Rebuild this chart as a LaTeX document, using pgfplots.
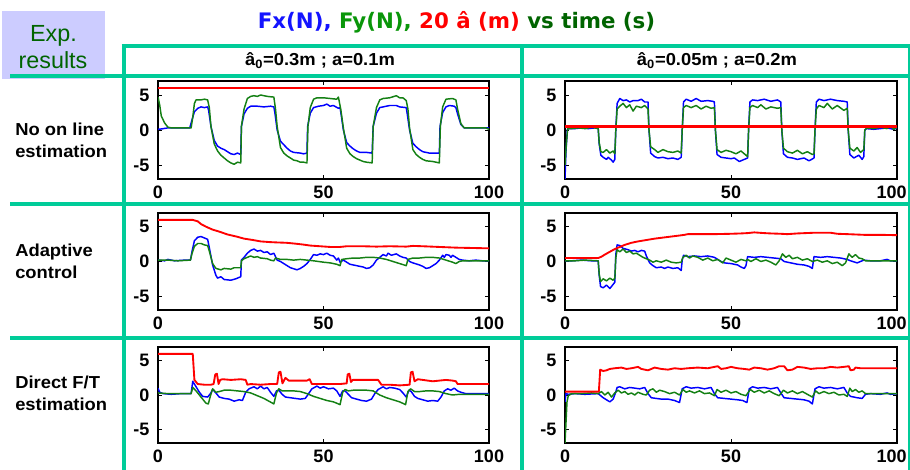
\documentclass[border=0pt]{standalone}
\usepackage{fontspec}
\setmainfont{Liberation Sans}
\newfontfamily\lbl[FakeStretch=1.06]{Liberation Sans}
\newfontfamily\ttl{DejaVu Sans}
\usepackage{pgfplots}
\pgfplotsset{compat=1.18}
\definecolor{cGrid}{RGB}{0,204,153}
\definecolor{cBox}{RGB}{204,204,255}
\definecolor{cFx}{RGB}{0,0,255}
\definecolor{cFy}{RGB}{20,128,20}
\definecolor{cA}{RGB}{255,0,0}
\definecolor{tBlue}{RGB}{20,20,255}
\definecolor{tGreen}{RGB}{10,150,10}
\definecolor{tDark}{RGB}{0,100,0}

\pgfplotsset{
  panel/.style={
    scale only axis,
    xmin=0, xmax=100, ymin=-7, ymax=7,
    xtick={0,50,100}, xticklabels={0,50,100},
    ytick={-5,0,5}, yticklabels={-5,0,5},
    tick align=inside, major tick length=3pt,
    axis line style={line width=0.8pt},
    tick style={black, line width=0.6pt},
    ticklabel style={font=\fontsize{13.5}{16}\selectfont\bfseries},
    xticklabel style={yshift=-1.5pt},
    yticklabel style={xshift=-3pt},
  },
  rpanel/.style={panel, xticklabels={0,50,{\hspace*{-8pt}100}}},
  fx/.style={color=cFx, line width=1.1pt, line join=round},
  fy/.style={color=cFy, line width=1.1pt, line join=round},
  ah/.style={color=cA, line width=1.4pt, line join=round},
}
\newcommand{\rowfont}{\lbl\fontsize{13}{15}\selectfont\bfseries}

\begin{document}
\begin{tikzpicture}
\path[use as bounding box] (0,0) rectangle (682.5pt,-352.5pt);

\begin{scope}[x=0.75pt, y=-0.75pt]
  \fill[cBox] (2,11) rectangle (105,79);
  \node[anchor=base, text=tDark, font=\fontsize{17.5}{20}\selectfont] at (53.5,42) {Exp.};
  \node[anchor=base, text=tDark, font=\fontsize{17.5}{20}\selectfont] at (53,68.5) {results};

  \node[anchor=base, font=\ttl\fontsize{16}{19}\selectfont\bfseries] at (456.5,29)
    {\textcolor{tBlue}{Fx(N),} \textcolor{tGreen}{Fy(N),} \textcolor{cA}{20 â (m)} \textcolor{tDark}{vs time (s)}};

  \draw[cGrid, line width=3pt] (121.5,46) -- (910,46);
  \draw[cGrid, line width=3pt] (10,76) -- (910,76);
  \draw[cGrid, line width=3pt] (10,204) -- (910,204);
  \draw[cGrid, line width=3pt] (10,338) -- (910,338);
  \draw[cGrid, line width=3pt] (123.5,44.5) -- (123.5,470);
  \draw[cGrid, line width=3pt] (522,44.5) -- (522,470);
  \draw[cGrid, line width=3pt] (909.5,44.5) -- (909.5,470);

  \node[anchor=base, font=\rowfont] at (320,66) {â\textsubscript{0}=0.3m ; a=0.1m};
  \node[anchor=base, font=\rowfont] at (717,66) {â\textsubscript{0}=0.05m ; a=0.2m};

  \node[anchor=base west, inner sep=0pt, font=\rowfont] at (15,136) {No on line};
  \node[anchor=base west, inner sep=0pt, font=\rowfont] at (15,158) {estimation};
  \node[anchor=base west, inner sep=0pt, font=\rowfont] at (15,257) {Adaptive};
  \node[anchor=base west, inner sep=0pt, font=\rowfont] at (15,279) {control};
  \node[anchor=base west, inner sep=0pt, font=\rowfont] at (15,388) {Direct F/T};
  \node[anchor=base west, inner sep=0pt, font=\rowfont] at (15,410) {estimation};
\end{scope}

% row 1: no on line estimation
\begin{axis}[panel, anchor=south west, at={(118.5pt,-134.25pt)}, width=248.25pt, height=73.5pt]
\addplot[fx] coordinates {
(0,0.1)(1,0.15)(3,0.3)(6,0.3)(9.6,0.3)(10.3,1.5)(11,2.6)(12,3.1)(13,3.3)(14,3.2)(15,3.3)(15.3,2.8)(16,0.5)(17,-1.5)(18,-2.3)(19,-2.6)(20,-2.8)(21,-3.1)(22,-3.4)(23,-3.5)(24,-3.3)(25,-3.5)(25.2,0.5)(26,2.3)(27,3.1)(28,3.4)(30,3.4)(32,3.3)(34,3.4)(35,3.3)(35.3,2.5)(36,0)(37,-1.6)(38,-2.1)(39,-2.6)(40,-3.0)(41,-3.2)(43,-3.3)(44,-3.4)(45,-3.3)(45.2,0.5)(46,2.4)(47,3.2)(48.5,3.4)(50,3.5)(51,3.7)(52,3.4)(53,3.5)(54.5,3.1)(55,3.2)(55.3,2.3)(56,0)(57,-1.8)(58,-2.3)(59,-2.7)(60,-3.0)(61,-3.2)(63,-3.2)(64.7,-3.3)(65,0.5)(66,2.4)(67,3.2)(68,3.3)(70,3.5)(72,3.5)(73,3.3)(75,3.2)(75.3,2.3)(76,0)(77,-1.9)(78,-2.4)(79,-2.8)(80,-3.1)(82,-3.3)(85,-3.3)(85.2,0.5)(86,2.5)(87,3.3)(88,3.5)(89.5,3.4)(90,3.2)(90.5,2.3)(91.5,0.8)(92.5,0.3)(95,0.3)(98,0.3)(100,0.3)};
\addplot[fy] coordinates {
(0,4.7)(0.5,3.6)(1,2.0)(2,1.0)(3,0.4)(4,0.3)(7,0.3)(10,0.3)(10.5,1.8)(11,3.8)(11.5,4.3)(13,4.3)(14,4.4)(15,4.3)(15.5,3.2)(16,0.5)(17,-2.0)(18,-3.0)(19,-3.6)(20,-4.0)(21,-4.4)(22,-4.7)(23,-4.9)(24,-4.6)(25,-4.7)(25.2,0.5)(26,3.0)(27,4.5)(28,4.8)(29,4.9)(30,4.8)(31,5.0)(33,4.8)(35,4.7)(35.5,3.0)(36,0.5)(37,-2.5)(38,-3.3)(39,-3.7)(40,-4.0)(41,-4.3)(42,-4.4)(43,-4.6)(44,-4.6)(45,-4.7)(45.3,0.5)(46,3.2)(47,4.4)(48,4.6)(50,4.6)(52,4.5)(54,4.4)(54.5,4.7)(55.2,3.0)(56,0.3)(57,-2.6)(58,-3.4)(59,-3.8)(60,-4.1)(61,-4.3)(62,-4.5)(63,-4.6)(64.7,-4.7)(65,0.5)(66,3.2)(67,4.3)(68,4.5)(70,4.6)(72,4.9)(73,4.6)(74,4.6)(75,4.2)(75.5,3.0)(76,0.3)(77,-2.8)(78,-3.5)(79,-3.9)(80,-4.2)(81,-4.4)(83,-4.5)(85,-4.7)(85.3,0.5)(86,3.3)(87,4.4)(89,4.5)(90,4.3)(90.5,3.0)(91.5,0.9)(92.5,0.3)(95,0.3)(99,0.3)(100,0.1)};
\addplot[ah] coordinates {(0,6)(100,6)};
\end{axis}

\begin{axis}[rpanel, anchor=south west, at={(423.75pt,-134.25pt)}, width=249pt, height=73.5pt]
\addplot[fx] coordinates {
(0,-7)(0.3,-3)(0.7,0.1)(1,0.2)(3,0.2)(5,0.3)(7,0.2)(9,0.3)(10,0.2)(10.3,-2.0)(10.8,-3.6)(11.5,-3.9)(12.5,-4.2)(13,-3.9)(14,-4.3)(14.5,-4.6)(15,-4.2)(15.3,0)(15.7,3.8)(16.5,4.5)(17.5,4.2)(18.5,4.3)(19.5,4.0)(20.5,4.2)(22,4.2)(23,4.4)(24,4.0)(25,4.0)(25.3,0)(25.8,-3.3)(27,-3.8)(28,-4.0)(29.5,-3.9)(31,-4.1)(32.5,-4.0)(34,-4.2)(35,-3.9)(35.3,0)(35.7,4.0)(36.5,4.4)(38,4.1)(39.5,4.5)(41,4.1)(43,4.2)(44.5,4.1)(45,4.0)(45.3,0)(45.8,-3.5)(47,-3.9)(48.5,-4.0)(50,-4.1)(51,-4.0)(52.5,-4.5)(54,-4.2)(55,-4.0)(55.3,0)(55.7,4.0)(56.5,4.3)(58,4.2)(60,4.4)(62,4.1)(64,4.3)(65,4.0)(65.3,0)(65.8,-3.4)(67,-3.9)(68.5,-4.0)(70,-4.2)(72,-4.0)(73.5,-4.4)(75,-4.0)(75.3,0)(75.7,4.0)(76.5,4.4)(78,4.2)(80,4.4)(82,4.2)(84,4.1)(85,4.0)(85.3,0)(85.8,-3.5)(87,-4.0)(88.5,-3.6)(89.5,-4.2)(90,-3.8)(90.3,0)(90.8,0.2)(93,0.1)(95,0.2)(97,0.3)(99,0.1)(100,0.3)};
\addplot[fy] coordinates {
(0,-5)(0.4,-2)(0.8,0.2)(2,0.2)(4,0.3)(6,0.2)(8,0.4)(10,0.2)(10.3,-1.8)(10.8,-3.1)(11.5,-3.2)(12.5,-2.8)(13.5,-3.3)(14.5,-3.0)(15,-3.4)(15.3,0)(15.7,3.0)(16.5,3.4)(17.5,3.8)(18.5,3.2)(19.5,3.6)(20.5,2.7)(21.5,3.4)(23,3.2)(24,3.5)(25,3.0)(25.3,0)(25.8,-2.4)(27,-2.8)(28,-3.2)(29.5,-2.8)(31,-3.1)(32.5,-3.2)(34,-3.0)(35,-3.3)(35.3,0)(35.7,3.2)(36.5,3.5)(38,3.2)(39.5,3.5)(41,3.0)(42.5,3.4)(44,3.1)(45,3.2)(45.3,0)(45.8,-2.8)(47,-3.2)(48.5,-2.9)(50,-3.1)(51.5,-3.4)(53,-3.0)(54.5,-3.6)(55,-3.8)(55.3,0)(55.7,3.2)(56.5,3.5)(58,3.2)(59,3.6)(60.5,3.0)(62,3.3)(64,3.1)(65,3.2)(65.3,0)(65.8,-2.6)(67,-3.1)(68.5,-3.3)(70,-2.9)(71.5,-3.4)(73,-3.1)(74.5,-3.5)(75,-3.4)(75.3,0)(75.7,3.0)(76.5,3.5)(78,3.2)(79,3.8)(80.5,3.0)(82,3.5)(84,2.8)(85,3.1)(85.3,0)(85.8,-2.6)(87,-3.0)(88,-2.5)(89,-3.2)(90,-2.8)(90.3,0)(91,0.3)(93,0.2)(95,0.4)(97,0.2)(98,0.6)(99,0.1)(100,0.4)};
\addplot[ah, line width=2.6pt] coordinates {(0,0.5)(100,0.5)};
\end{axis}

% row 2: adaptive control
\begin{axis}[panel, anchor=south west, at={(118.5pt,-232.5pt)}, width=248.25pt, height=72.75pt]
\addplot[fx] coordinates {
(0,0.2)(2,0.1)(3,0.3)(5,0.1)(8,0.2)(9.8,0.2)(10.3,1.5)(11,3.0)(12,3.5)(13,3.6)(14,3.4)(15,3.2)(15.5,2.0)(16.5,-0.5)(17.5,-2.0)(18,-2.4)(19,-2.2)(20,-2.6)(22,-2.7)(23.5,-2.5)(25,-2.2)(25.2,0.2)(26,0.6)(27,1.2)(28,1.6)(29,1.8)(30,1.5)(31,1.6)(32,1.3)(33,1.4)(34,1.0)(35,1.2)(36,0.2)(37,0.0)(38,-0.3)(39,-0.6)(40,-0.9)(42,-1.2)(43,-1.0)(44,-0.7)(45,-0.3)(46,0.3)(47,1.0)(48,0.9)(49,1.1)(50,1.0)(51,1.2)(52,0.9)(53,0.8)(54,0.2)(54.5,0.5)(55,-0.1)(56,0.2)(57,-0.1)(58,-0.4)(60,-0.6)(62,-0.8)(63,-1.0)(64,-0.9)(65,-0.5)(66,0.2)(67,0.6)(68,1.0)(69,0.8)(69.5,1.2)(70.5,0.9)(72,1.1)(73,0.8)(74,0.6)(75,0.5)(76,0.0)(77,-0.2)(79,-0.5)(80,-0.7)(81,-1.0)(82,-0.9)(83,-0.6)(84,-0.3)(85,0.2)(86,0.9)(86.5,0.6)(87,1.0)(88,0.9)(88.5,0.6)(89,0.9)(90,0.6)(91,0.3)(92,0.2)(94,0.1)(96,0.2)(98,0.1)(100,0.1)};
\addplot[fy] coordinates {
(0,0.2)(3,0.2)(6,0.1)(9.8,0.2)(10.3,1.2)(11,2.2)(12,2.6)(13,2.6)(14,2.4)(15,2.3)(15.5,1.5)(16.5,-0.3)(17.5,-1.0)(19,-1.2)(20,-1.0)(22,-1.1)(23,-0.9)(25,-0.9)(25.2,0.1)(26,0.4)(27,0.6)(28,0.8)(29,0.6)(30,0.7)(31,0.5)(33,0.4)(34,0.2)(35,0.1)(35.5,0.5)(37,0.3)(39,0.3)(41,0.2)(43,0.3)(45,0.2)(47,0.1)(50,-0.1)(52,-0.2)(54,-0.4)(55,-0.6)(55.5,0.3)(57,0.4)(59,0.5)(61,0.5)(63,0.6)(65,0.6)(67,0.5)(69,0.3)(71,0.0)(73,-0.3)(75,-0.6)(75.5,0.3)(77,0.5)(79,0.5)(81,0.6)(83,0.6)(85,0.5)(87,0.2)(89,-0.1)(90,-0.3)(91,0.0)(92,0.1)(95,0.1)(100,0.1)};
\addplot[ah] coordinates {
(0,6.0)(10.5,6.0)(12,5.8)(13,5.4)(14.6,5.0)(16.5,4.6)(18.6,4.3)(21,3.9)(23.7,3.6)(26,3.3)(28.7,3.1)(31,2.9)(33.8,2.8)(36,2.75)(38.8,2.7)(41,2.6)(43.8,2.45)(46,2.3)(49,2.2)(52,2.1)(55,2.1)(57,2.2)(62,2.2)(66,2.15)(70,2.2)(75,2.15)(77,2.25)(80,2.2)(85,2.1)(90,2.0)(95,1.95)(100,1.9)};
\end{axis}

\begin{axis}[rpanel, anchor=south west, at={(423.75pt,-232.5pt)}, width=249pt, height=72.75pt]
\addplot[fx] coordinates {
(0,0.1)(2,0.1)(5,0.2)(8,0.1)(10,0.1)(10.3,-2.0)(10.7,-3.6)(11.5,-3.8)(12.5,-3.4)(13.5,-3.9)(14.5,-3.3)(15,-3.0)(15.3,1.0)(15.7,2.4)(16.5,2.3)(17.5,1.9)(19,1.7)(20,1.5)(21,1.6)(22,1.4)(23,1.6)(24,1.5)(24.5,0.8)(25.5,-0.2)(26.5,-0.6)(27.5,-0.9)(29,-0.8)(30,-1.0)(31,-0.8)(32.5,-1.0)(34,-0.9)(35,-1.3)(35.3,0.2)(35.7,0.9)(37,0.7)(39,0.8)(41,0.7)(43,0.8)(45,0.6)(46,0.3)(47,0.0)(48,-0.2)(50,-0.3)(52,-0.5)(53,-0.8)(54,-1.0)(54.5,-0.6)(55,0.7)(57,0.6)(59,0.7)(61,0.6)(63,0.5)(65,0.4)(66,0.0)(68,-0.2)(70,-0.4)(72,-0.5)(73.5,-0.7)(74.5,-1.0)(75,0.7)(77,0.6)(79,0.7)(81,0.6)(83,0.5)(85,0.3)(86,0.1)(88,-0.2)(89,0.0)(90,0.2)(92,0.1)(95,0.1)(97,0.3)(98,0.1)(100,0.1)};
\addplot[fy] coordinates {
(0,0.1)(3,0.1)(6,0.2)(10,0.1)(10.3,-1.8)(10.7,-2.9)(11.5,-2.5)(12.5,-2.8)(13.5,-2.4)(14.5,-2.7)(15,-2.4)(15.3,0.5)(15.7,1.7)(16.5,1.4)(17.5,1.8)(18.5,1.3)(19.5,1.5)(20.5,1.1)(21.5,1.2)(22.5,0.9)(23.5,0.6)(24.5,0.4)(25.5,0.2)(26.5,-0.1)(27.5,0.1)(29,-0.1)(30.5,0.2)(32,-0.1)(33.5,-0.2)(35,-0.1)(35.5,0.6)(36.5,0.9)(37.5,0.5)(38.5,0.8)(40,0.6)(41.5,0.2)(43,0.5)(44.5,0.1)(46,0.3)(47.5,-0.2)(48.5,0.5)(50,0.2)(51.5,-0.1)(53,0.3)(54.5,0.1)(55,0.3)(56,0.0)(57.5,0.4)(59,0.0)(60.5,0.2)(62,-0.1)(63.5,-0.5)(64.5,0.1)(65.5,1.1)(66.5,0.6)(67.5,0.9)(68.5,0.4)(70,0.6)(71.5,0.2)(73,0.4)(74.5,0.0)(76,0.2)(77.5,-0.1)(79,0.1)(80.5,-0.3)(82,-0.1)(83.5,-0.6)(84.5,-0.2)(85.5,1.1)(86.5,0.6)(87.5,1.0)(88.5,0.5)(89.5,0.4)(90.5,0.1)(93,0.1)(96,0.1)(100,0.1)};
\addplot[ah] coordinates {
(0,0.5)(10,0.5)(11,0.7)(12,1.0)(13.5,1.4)(15,1.8)(16.5,2.1)(18,2.4)(20,2.7)(22,2.9)(24.5,3.1)(27,3.3)(29.5,3.45)(32,3.6)(34.5,3.75)(36,3.85)(37,3.95)(40,3.95)(45,3.95)(50,4.0)(53,4.05)(55,4.1)(57,4.2)(60,4.1)(62,4.05)(65,4.0)(67,3.95)(70,4.05)(75,4.15)(80,4.15)(82,4.0)(85,3.95)(90,3.85)(95,3.85)(100,3.8)};
\end{axis}

% row 3: direct F/T estimation
\begin{axis}[panel, anchor=south west, at={(118.5pt,-332.25pt)}, width=248.25pt, height=72pt]
\addplot[fx] coordinates {
(0,1.0)(0.5,0.4)(1.5,0.2)(4,0.1)(7,0.2)(10,0.2)(10.5,2.0)(11.5,1.2)(12.5,0.4)(13.5,-0.2)(15,-0.3)(16,0.3)(16.5,0.8)(17.5,0.3)(18.5,-0.3)(20,-0.5)(21.5,-0.6)(23,-0.9)(24.5,-0.7)(25.5,-0.8)(26.5,0.4)(27.5,0.9)(29,1.2)(30,0.9)(31,1.3)(32,0.9)(33,1.1)(34,0.4)(35,-0.2)(35.8,0.6)(36.5,0.7)(37.5,0.1)(38.5,-0.3)(40,-0.4)(41.5,-0.5)(43,-0.6)(44.5,-0.5)(45.5,0.2)(46.5,0.9)(48,1.3)(49,1.0)(50,1.2)(51.5,0.9)(53,1.0)(54,0.6)(55,-0.2)(55.8,0.6)(56.5,0.6)(57.5,0.1)(58.5,-0.4)(60,-0.6)(61.5,-0.8)(63,-0.9)(64.5,-0.6)(65.5,0.2)(66.5,0.8)(68,1.2)(69,0.9)(70,1.1)(71.5,1.0)(73,0.8)(74,0.3)(75,-0.3)(75.8,0.7)(76.5,0.5)(77.5,-0.2)(78.5,-0.5)(80,-0.7)(81.5,-0.9)(83,-0.8)(84.5,-0.9)(85.5,-0.3)(86.5,0.6)(87.5,0.9)(88.5,0.7)(89.5,1.0)(90.5,0.6)(91.5,0.4)(93,0.2)(96,0.2)(100,0.2)};
\addplot[fy] coordinates {
(0,0.3)(3,0.2)(6,0.2)(10,0.2)(10.5,1.1)(11.5,0.6)(12.5,0.0)(13.5,-0.6)(14.5,-1.2)(15.2,-1.3)(15.8,-0.2)(16.5,0.9)(17.5,0.4)(18.5,0.5)(20,0.7)(22,0.7)(24,0.6)(26,0.5)(28,0.3)(30,-0.1)(32,-0.5)(33.5,-0.9)(35,-1.3)(35.8,0.3)(36.5,0.9)(37.5,0.6)(39,0.6)(41,0.6)(43,0.5)(45,0.2)(47,-0.2)(49,-0.5)(51,-0.8)(53,-1.0)(55,-1.4)(55.8,0.4)(56.5,0.8)(57.5,0.6)(59,0.7)(61,0.7)(63,0.7)(65,0.6)(67,0.0)(69,-0.4)(71,-0.7)(73,-1.0)(74.8,-1.4)(75.5,0.5)(76.3,0.9)(77.5,0.5)(79,0.5)(81,0.6)(83,0.6)(85,0.5)(87,0.2)(89,0.0)(91,0.1)(94,0.1)(100,0.1)};
\addplot[ah] coordinates {
(0,6.0)(10.5,6.0)(11,2.2)(12,1.6)(14,1.5)(16,1.5)(16.8,1.6)(17.3,3.0)(17.8,3.1)(18.3,1.6)(18.8,2.2)(19.5,2.3)(22,2.2)(25,2.3)(26.5,2.2)(27,1.5)(28,1.6)(31,1.5)(34,1.6)(36,1.6)(36.5,3.3)(37,3.4)(37.6,1.7)(38.5,2.5)(39.5,2.1)(42,2.1)(45,2.1)(45.8,2.3)(46.5,1.6)(49,1.6)(52,1.6)(55,1.6)(57,1.7)(57.3,3.0)(57.8,3.1)(58.3,1.9)(58.8,2.2)(61,2.2)(64,2.2)(66.5,2.2)(67.5,1.5)(70,1.5)(73,1.4)(76,1.5)(76.4,3.3)(76.9,3.4)(77.5,2.0)(78.5,2.3)(80,2.2)(83,2.0)(85,2.1)(87,2.2)(89,2.1)(90,2.0)(90.5,1.6)(94,1.6)(100,1.6)};
\end{axis}

\begin{axis}[rpanel, anchor=south west, at={(423.75pt,-332.25pt)}, width=249pt, height=72pt]
\addplot[fx] coordinates {
(0,-1.0)(0.3,0.2)(1,0.1)(3,0.2)(6,0.1)(10,0.2)(10.5,0.0)(11.5,-0.4)(12.5,-0.7)(13.5,-1.0)(14.5,-0.6)(15.2,0.3)(15.7,1.1)(16.5,1.2)(18,0.9)(19.5,1.1)(21,1.0)(22.5,0.9)(24,1.1)(25,0.2)(26,-0.4)(27.5,-0.5)(29,-0.6)(31,-0.6)(33,-0.8)(34.5,-1.1)(35.3,0.9)(36.5,1.2)(38,1.0)(40,1.1)(42,0.9)(44,1.1)(45,0.2)(46,-0.4)(48,-0.5)(50,-0.6)(52,-0.7)(53.5,-0.8)(54.8,-1.1)(55.5,0.9)(56.5,1.2)(58,1.0)(60,1.1)(62,0.9)(64,1.1)(65,0.3)(66,-0.4)(68,-0.5)(70,-0.6)(72,-0.7)(73.5,-0.9)(74.5,-1.3)(75.3,0.9)(76.5,1.2)(78,1.0)(80,1.1)(82,0.9)(84,1.1)(85,0.3)(86,-0.2)(88,-0.4)(89.5,-0.5)(90.5,0.1)(92,0.2)(95,0.1)(97,0.3)(98,0.1)(100,0.2)};
\addplot[fy] coordinates {
(0,-7)(0.3,-4)(0.6,-1.0)(1,-0.1)(2,0.2)(5,0.2)(8,0.3)(10,0.2)(11,0.5)(12,0.0)(13,0.4)(14,-0.3)(15,0.3)(16,0.7)(17,0.3)(18,0.5)(19,0.1)(20,0.3)(21,0.0)(22,0.4)(23.5,0.1)(24.5,0.0)(25.5,0.7)(26.5,0.9)(27.5,0.4)(28.5,0.7)(30,0.5)(31.5,0.2)(33,0.4)(34.5,0.0)(35.5,0.8)(36.5,0.4)(37.5,0.6)(39,0.3)(40.5,0.6)(42,0.2)(43.5,0.3)(45,-0.1)(45.8,0.8)(47,0.4)(48.5,0.7)(50,0.3)(51.5,0.5)(53,0.1)(54.5,-0.1)(55.8,0.8)(57,0.4)(58.5,0.7)(60,0.3)(61.5,0.6)(63,0.2)(64.5,-0.1)(65.8,0.7)(67,0.3)(68.5,0.6)(70,0.2)(71.5,0.5)(73,0.1)(74.5,-0.3)(75.5,0.6)(76.5,0.2)(78,0.5)(79.5,0.2)(81,0.4)(82.5,0.0)(84,0.1)(85,-0.2)(85.8,1.0)(86.5,0.5)(87.5,0.8)(88.5,0.4)(89.5,0.6)(90.5,0.2)(93,0.2)(100,0.2)};
\addplot[ah] coordinates {
(0,0.5)(10.2,0.5)(10.6,3.7)(11.5,3.5)(12.5,3.6)(13.5,3.8)(15,3.9)(17,4.0)(18.5,3.8)(20,3.9)(22,4.1)(23,3.8)(25,3.6)(26,3.8)(27,4.0)(29,3.8)(31,3.7)(33,3.9)(35,3.8)(37,3.9)(40,4.0)(43,3.9)(45,4.1)(46,4.2)(47,3.8)(48.5,3.9)(50,4.1)(52,3.9)(54,3.8)(55.5,3.7)(57,4.0)(59,3.9)(61,3.7)(63,3.9)(64.5,4.2)(66,4.2)(67,3.6)(68.5,3.7)(70,4.1)(72,4.0)(74,3.8)(76,3.9)(78,3.9)(80,4.1)(82,4.0)(84,4.1)(85.5,4.2)(86,3.6)(87,3.7)(87.5,4.0)(89,3.9)(91,3.9)(95,3.9)(100,3.9)};
\end{axis}
\end{tikzpicture}
\end{document}
